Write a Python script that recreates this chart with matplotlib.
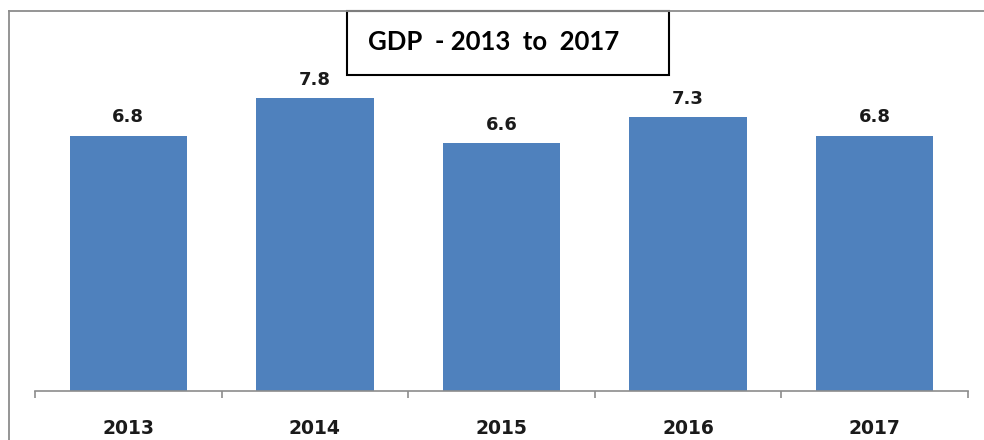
"""
GDP bar chart, 2013 to 2017.
"""

import matplotlib
matplotlib.use("Agg")
import matplotlib.pyplot as plt
from matplotlib.patches import Rectangle
from matplotlib.lines import Line2D

YEARS = ["2013", "2014", "2015", "2016", "2017"]
GDP = [6.8, 7.8, 6.6, 7.3, 6.8]
TITLE = "GDP  - 2013  to  2017"

BAR_COLOR = "#4F81BD"
W, H = 984, 440

fig = plt.figure(figsize=(W / 100, H / 100), dpi=100)
fig.patch.set_facecolor("white")

# axes placed in pixel terms
left, right, bottom, top = 35, 968, 391, 16
ax = fig.add_axes([left / W, (H - bottom) / H, (right - left) / W, (bottom - top) / H])

x = range(len(YEARS))
bars = ax.bar(x, GDP, width=0.63, color=BAR_COLOR)
ax.set_xlim(-0.5, len(YEARS) - 0.5)
ax.set_ylim(0, 10)

for bar, val in zip(bars, GDP):
    ax.annotate(f"{val:.1f}", (bar.get_x() + bar.get_width() / 2, val),
                xytext=(0, 7), textcoords="offset points",
                ha="center", va="bottom", fontsize=13, fontweight="bold",
                color="#1a1a1a", family="DejaVu Sans")

for s in ["top", "right", "left"]:
    ax.spines[s].set_visible(False)
ax.spines["bottom"].set_color("#8c8c8c")
ax.spines["bottom"].set_linewidth(1.2)
ax.set_yticks([])

# category boundaries as ticks, labels centered under bars
ax.set_xticks([i - 0.5 for i in range(len(YEARS) + 1)])
ax.set_xticklabels([])
ax.tick_params(axis="x", length=5, width=1.2, color="#8c8c8c")
for i, yr in enumerate(YEARS):
    ax.text(i, -1.0, yr, ha="center", va="center", fontsize=13.5,
            fontweight="bold", color="#1a1a1a", family="DejaVu Sans")

# outer chart border (clipped at right and bottom)
fig.add_artist(Line2D([9 / W, 1], [(H - 11) / H] * 2, color="#8c8c8c",
                      linewidth=1.3, transform=fig.transFigure))
fig.add_artist(Line2D([9 / W] * 2, [0, (H - 11) / H], color="#8c8c8c",
                      linewidth=1.3, transform=fig.transFigure))

# title box
fig.add_artist(Rectangle((347 / W, (H - 75) / H), (669 - 347) / W, 64 / H,
                         facecolor="white", edgecolor="black", linewidth=1.5,
                         transform=fig.transFigure))
fig.text(368 / W, (H - 42) / H, TITLE, ha="left", va="center",
         fontsize=18.5, fontweight="bold", family="Lato", color="black")

fig.savefig("out.png", dpi=100)
